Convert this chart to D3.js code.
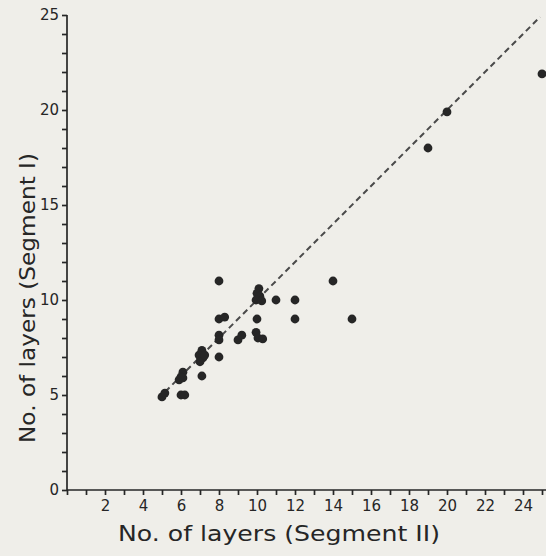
<!DOCTYPE html>
<html>
<head>
<meta charset="utf-8">
<script src="https://cdn.jsdelivr.net/npm/d3@7"></script>
<style>
  body { margin: 0; background: #efeee9; }
  svg { display: block; }
</style>
</head>
<body>
<div id="chart"></div>
<script>
// values: layer counts, segment II (x) vs segment I (y)
const segII = [8, 10.1, 10, 10.15, 9.95, 10.25, 11, 12, 14, 15, 12, 10, 8, 8.3,
               8, 8, 9, 9.2, 9.95, 10.05, 10.3, 7.1, 6.95, 7.15, 7, 7.25, 8, 7.1,
               6.1, 6, 5.9, 6.1, 6, 6.2, 5, 5.15, 20, 19, 25];
const segI  = [11, 10.6, 10.35, 10.2, 10, 9.95, 10, 10, 11, 9, 9, 9, 9, 9.1,
               8.15, 7.9, 7.9, 8.15, 8.3, 8, 7.95, 7.35, 7.1, 6.95, 6.75, 7.1, 7, 6,
               6.2, 5.95, 5.8, 5.9, 5, 5, 4.9, 5.1, 19.9, 18, 21.9];
const xTickLabels = [2, 4, 6, 8, 10, 12, 14, 16, 18, 20, 22, 24];
const yTickLabels = [0, 5, 10, 15, 20, 25];
const lineStart = 4.8, lineEnd = 24.9;

const width = 546, height = 556;
const margin = {left: 67, bottom: 66, top: 15};

const svg = d3.select("#chart").append("svg")
    .attr("width", width)
    .attr("height", height);

const x = d3.scaleLinear().domain([0, 25]).range([margin.left, margin.left + 25 * 19]);
const y = d3.scaleLinear().domain([0, 25]).range([height - margin.bottom, margin.top]);

const ink = "#262626";
const font = "'DejaVu Sans', sans-serif";

// x axis, ticks every unit, labels every two
const xAxis = d3.axisBottom(x)
    .tickValues(d3.range(0, 26))
    .tickSize(5)
    .tickPadding(5)
    .tickFormat(d => xTickLabels.includes(d) ? d : "");
const gx = svg.append("g")
    .attr("transform", `translate(0,${y(0)})`)
    .call(xAxis);
gx.select(".domain").attr("d", `M${x(0)},0H${width}`);

// y axis, ticks every unit, labels every five
const yAxis = d3.axisLeft(y)
    .tickValues(d3.range(0, 26))
    .tickSize(5)
    .tickPadding(3)
    .tickFormat(d => yTickLabels.includes(d) ? d : "");
const gy = svg.append("g")
    .attr("transform", `translate(${x(0)},0)`)
    .call(yAxis);
gy.select(".domain").attr("d", `M0,${y(25)}V${y(0)}`);

svg.selectAll(".domain, .tick line")
    .attr("stroke", ink)
    .attr("stroke-width", 1.7);
svg.selectAll(".tick text")
    .attr("fill", ink)
    .attr("font-family", font)
    .attr("font-size", 15);
gx.select(".tick text").text("");  // no 0 under the x axis

// dashed 1:1 line
svg.append("line")
    .attr("x1", x(lineStart)).attr("y1", y(lineStart))
    .attr("x2", x(lineEnd)).attr("y2", y(lineEnd))
    .attr("stroke", "#4a4a4a")
    .attr("stroke-width", 2)
    .attr("stroke-dasharray", "6,4");

// points
svg.append("g").selectAll("circle")
    .data(d3.range(segII.length))
    .enter()
    .append("circle")
    .attr("cx", i => x(segII[i]))
    .attr("cy", i => y(segI[i]))
    .attr("r", 4.4)
    .attr("fill", ink);

// axis titles
svg.append("text")
    .attr("x", 118).attr("y", 541)
    .attr("font-family", font)
    .attr("font-size", 22)
    .attr("fill", ink)
    .attr("textLength", 322)
    .attr("lengthAdjust", "spacingAndGlyphs")
    .text("No. of layers (Segment II)");

svg.append("text")
    .attr("transform", "translate(35,443) rotate(-90)")
    .attr("font-family", font)
    .attr("font-size", 22)
    .attr("fill", ink)
    .attr("textLength", 290)
    .attr("lengthAdjust", "spacingAndGlyphs")
    .text("No. of layers (Segment I)");
</script>
</body>
</html>
